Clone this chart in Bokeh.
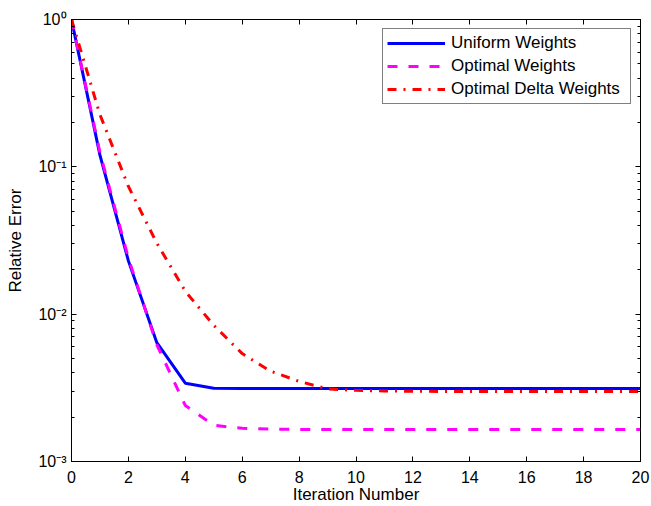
from bokeh.plotting import figure
from bokeh.models import (Range1d, FixedTicker, LogAxis, LinearAxis,
                          CustomJSTickFormatter)
from bokeh.embed import file_html
from bokeh.resources import INLINE

# ---- data ----
iterations = [0, 1, 2, 3, 4, 5, 6, 7, 8, 9, 10, 11, 12, 13, 14, 15, 16, 17, 18, 19, 20]
uniform_weights = [1.0, 0.12, 0.023, 0.0064, 0.0034, 0.00314, 0.00313, 0.00313, 0.00313,
                   0.00313, 0.00313, 0.00313, 0.00313, 0.00313, 0.00313, 0.00313, 0.00313,
                   0.00313, 0.00313, 0.00313, 0.00313]
optimal_weights = [1.0, 0.125, 0.024, 0.0062, 0.0024, 0.00176, 0.00168, 0.00166, 0.00165,
                   0.00165, 0.00165, 0.00165, 0.00165, 0.00165, 0.00165, 0.00165, 0.00165,
                   0.00165, 0.00165, 0.00165, 0.00165]
optimal_delta_weights = [1.0, 0.226, 0.0736, 0.0303, 0.0143, 0.0084, 0.0054, 0.0041, 0.0035,
                         0.00311, 0.00304, 0.00301, 0.003, 0.00299, 0.00299, 0.00299, 0.00299,
                         0.00299, 0.00299, 0.00299, 0.00299]

x_ticks = [0, 2, 4, 6, 8, 10, 12, 14, 16, 18, 20]
y_exponents = [0, -1, -2, -3]
series_labels = ["Uniform Weights", "Optimal Weights", "Optimal Delta Weights"]
x_label = "Iteration Number"
y_label = "Relative Error"

FONT = "Liberation Sans"
SUP = str.maketrans("-0123456789", "⁻⁰¹²³⁴⁵⁶⁷⁸⁹")

y_major = [10.0 ** e for e in y_exponents]
y_minor = [m * 10.0 ** e for e in y_exponents[1:] for m in range(2, 10)]
y_tick_labels = {10.0 ** e: "10" + str(e).translate(SUP) for e in y_exponents}

p = figure(width=651, height=506, x_range=Range1d(0, 20), y_range=Range1d(1e-3, 1),
           y_axis_type="log", output_backend="svg", toolbar_location=None,
           min_border_left=71, min_border_right=11, min_border_top=19, min_border_bottom=45)
p.background_fill_color = "white"
p.border_fill_color = "white"
p.outline_line_color = "black"
p.outline_line_width = 1
p.xgrid.visible = False
p.ygrid.visible = False

blank = CustomJSTickFormatter(code="return ''")

# bottom axis
xa = p.xaxis[0]
xa.ticker = FixedTicker(ticks=x_ticks)
xa.major_tick_in = 5
xa.major_tick_out = 0
xa.minor_tick_in = 0
xa.minor_tick_out = 0
xa.major_label_text_font = FONT
xa.major_label_text_font_size = "16px"
xa.major_label_text_color = "black"
xa.major_label_standoff = 9
xa.axis_line_color = "black"
xa.major_tick_line_color = "black"
xa.axis_label = x_label
xa.axis_label_text_font = FONT
xa.axis_label_text_font_size = "17px"
xa.axis_label_text_font_style = "normal"
xa.axis_label_text_color = "black"
xa.axis_label_standoff = -1

# left axis
ya = p.yaxis[0]
ya.ticker = FixedTicker(ticks=y_major, minor_ticks=y_minor)
ya.major_label_overrides = y_tick_labels
ya.major_label_text_font = FONT
ya.major_label_text_font_size = "16px"
ya.major_label_text_color = "black"
ya.major_label_standoff = 5
ya.major_tick_in = 5
ya.major_tick_out = 0
ya.minor_tick_in = 3
ya.minor_tick_out = 0
ya.axis_line_color = "black"
ya.axis_label = y_label
ya.axis_label_text_font = FONT
ya.axis_label_text_font_size = "17px"
ya.axis_label_text_font_style = "normal"
ya.axis_label_text_color = "black"
ya.axis_label_standoff = 10

# mirrored axes (ticks only)
top = LinearAxis(ticker=FixedTicker(ticks=x_ticks), formatter=blank,
                 major_label_text_font_size="0px", major_label_standoff=0,
                 major_tick_in=5, major_tick_out=0, minor_tick_in=0, minor_tick_out=0)
right = LogAxis(ticker=FixedTicker(ticks=y_major, minor_ticks=y_minor), formatter=blank,
                major_label_text_font_size="0px", major_label_standoff=0,
                major_tick_in=5, major_tick_out=0, minor_tick_in=3, minor_tick_out=0)
p.add_layout(top, "above")
p.add_layout(right, "right")

# series
p.line(iterations, uniform_weights, line_color="#0000ff", line_width=3,
       legend_label=series_labels[0])
p.line(iterations, optimal_weights, line_color="#ff00ff", line_width=3, line_dash="10 11",
       legend_label=series_labels[1])
p.line(iterations, optimal_delta_weights, line_color="#ff0000", line_width=3,
       line_dash="9 7 2 7", legend_label=series_labels[2])

# legend
lg = p.legend[0]
lg.location = "top_right"
lg.margin = 9
lg.padding = 4
lg.spacing = 3
lg.label_height = 18
lg.glyph_height = 18
lg.glyph_width = 58
lg.label_standoff = 6
lg.label_width = 175
lg.label_text_font = FONT
lg.label_text_font_size = "17px"
lg.label_text_color = "black"
lg.border_line_color = "black"
lg.border_line_width = 1
lg.background_fill_color = "white"
lg.background_fill_alpha = 1

open("out.html", "w").write(file_html(p, INLINE))
